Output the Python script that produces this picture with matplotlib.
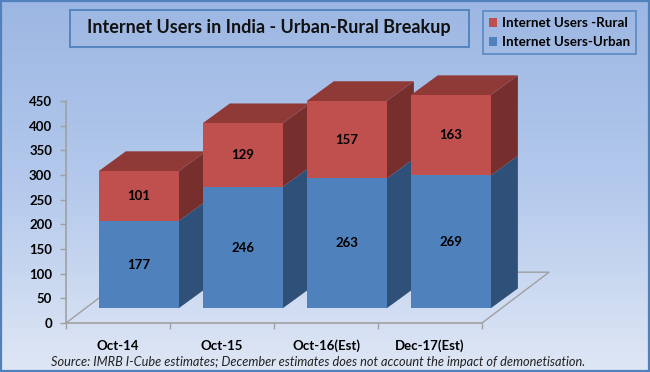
import numpy as np
import matplotlib
matplotlib.use('Agg')
import matplotlib.pyplot as plt
from matplotlib.patches import Rectangle, Polygon
from matplotlib.colors import LinearSegmentedColormap

categories = ['Oct-14', 'Oct-15', 'Oct-16(Est)', 'Dec-17(Est)']
urban = [177, 246, 263, 269]
rural = [101, 129, 157, 163]
y_ticks = [0, 50, 100, 150, 200, 250, 300, 350, 400, 450]

W, H = 650, 372
plt.rcParams['font.family'] = ['Lato', 'DejaVu Sans']

RED = '#c0504d'
RED_TOP = '#903a38'
RED_SIDE = '#772f2e'
BLUE = '#4f81bd'
BLUE_SIDE = '#2f5079'
FRAME = '#4f81bd'
GREY = '#a0a0a0'

# 3d look, all in data units: x in categories, y in users
bar_w = 0.77
bar_dx, bar_dy = 0.26, 40      # depth of a bar
base_dx, base_dy = 0.20, 30    # bars stand this far back on the floor
floor_dx, floor_dy = 0.645, 103

fig = plt.figure(figsize=(W / 100, H / 100), dpi=100)

# background gradient
bg = fig.add_axes([0, 0, 1, 1])
cmap = LinearSegmentedColormap.from_list('bg', ['#9cb7e3', '#b4c9ec', '#dfe7f5'])
bg.imshow(np.linspace(0, 1, 256).reshape(-1, 1), aspect='auto', cmap=cmap, extent=[0, W, H, 0])
bg.set_xlim(0, W)
bg.set_ylim(H, 0)
bg.axis('off')
bg.add_patch(Rectangle((1, 1), W - 2, H - 2, fill=False, ec=FRAME, lw=1.6))
bg.add_patch(Rectangle((69.5, 9.5), 399, 37, fill=False, ec=FRAME, lw=1.3))

ax = fig.add_axes([66 / W, (H - 323) / H, 416 / W, 222 / H])
ax.patch.set_alpha(0)
ax.set_xlim(0, 4)
ax.set_ylim(0, 450)
for s in ['top', 'right']:
    ax.spines[s].set_visible(False)
for s in ['left', 'bottom']:
    ax.spines[s].set_color(GREY)
    ax.spines[s].set_linewidth(1.2)

# floor
ax.plot([0, floor_dx, 4 + floor_dx, 4], [0, floor_dy, floor_dy, 0], color=GREY, lw=1.0, clip_on=False, zorder=0.5)


def face(pts, color):
    ax.add_patch(Polygon(pts, closed=True, fc=color, ec='none', clip_on=False))


for i in range(len(categories)):
    x0 = i + 0.5 - bar_w / 2 + base_dx
    x1 = x0 + bar_w
    y0 = base_dy
    y1 = y0 + urban[i]
    y2 = y1 + rural[i]
    face([(x1, y0), (x1 + bar_dx, y0 + bar_dy), (x1 + bar_dx, y1 + bar_dy), (x1, y1)], BLUE_SIDE)
    face([(x0, y0), (x1, y0), (x1, y1), (x0, y1)], BLUE)
    face([(x1, y1), (x1 + bar_dx, y1 + bar_dy), (x1 + bar_dx, y2 + bar_dy), (x1, y2)], RED_SIDE)
    face([(x0, y2), (x1, y2), (x1 + bar_dx, y2 + bar_dy), (x0 + bar_dx, y2 + bar_dy)], RED_TOP)
    face([(x0, y1), (x1, y1), (x1, y2), (x0, y2)], RED)
    ax.text((x0 + x1) / 2, (y0 + y1) / 2, str(urban[i]), ha='center', va='center',
            fontsize=9.5, fontweight='bold', color='black')
    ax.text((x0 + x1) / 2, (y1 + y2) / 2, str(rural[i]), ha='center', va='center',
            fontsize=9.5, fontweight='bold', color='black')

ax.set_yticks(y_ticks)
ax.set_xticks(range(len(categories) + 1))
ax.set_xticklabels([])
ax.set_xticks(np.arange(len(categories)) + 0.5, minor=True)
ax.set_xticklabels(categories, minor=True, fontsize=9.5, fontweight='bold')
ax.tick_params(axis='y', length=4, color=GREY, width=1, pad=6, labelsize=9.5)
ax.tick_params(axis='x', which='major', length=4, color=GREY, width=1)
ax.tick_params(axis='x', which='minor', length=0, pad=12)
for t in ax.get_yticklabels():
    t.set_fontweight('bold')

fig.text(269 / W, 1 - 28 / H, 'Internet Users in India - Urban-Rural Breakup', ha='center', va='center',
         fontsize=13, fontweight='bold', color='#111111')
fig.text(318 / W, 1 - 362 / H,
         'Source: IMRB I-Cube estimates; December estimates does not account the impact of demonetisation.',
         ha='center', va='center', fontsize=9.2, style='italic', color='#222222')

handles = [Rectangle((0, 0), 1, 1, fc=RED), Rectangle((0, 0), 1, 1, fc=BLUE)]
leg = fig.legend(handles, ['Internet Users -Rural', 'Internet Users-Urban'],
                 loc='upper left', bbox_to_anchor=(483 / W, 1 - 11 / H), borderaxespad=0,
                 prop={'size': 9.6, 'weight': 'bold'}, handlelength=0.6, handleheight=0.6,
                 handletextpad=0.4, labelspacing=0.55, borderpad=0.45, fancybox=False,
                 facecolor='none', framealpha=None, edgecolor=FRAME)
leg.get_frame().set_linewidth(1.3)

fig.savefig('out.png', dpi=100)
